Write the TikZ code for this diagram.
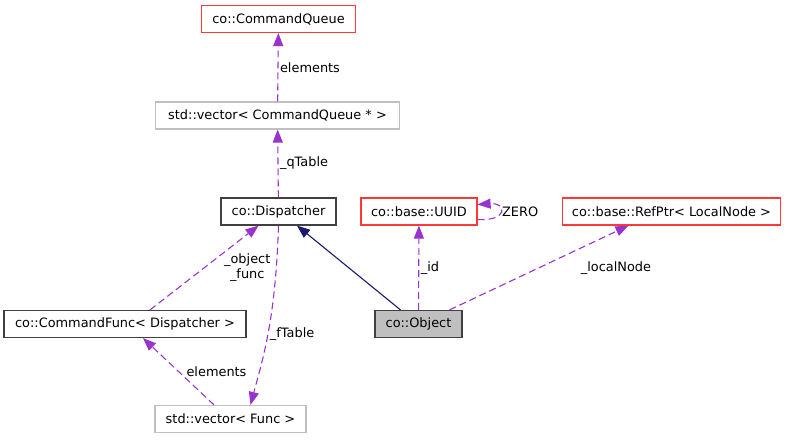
\documentclass[tikz,border=0pt]{standalone}
\usepackage{fontspec}
\setmainfont{DejaVu Sans}
\usetikzlibrary{arrows.meta}
\definecolor{usecol}{HTML}{9A32CD}
\definecolor{inhcol}{HTML}{191970}
\definecolor{extred}{HTML}{FF3838}
\definecolor{tplgray}{HTML}{BFBFBF}
\definecolor{objgray}{HTML}{BFBFBF}
\begin{document}
\begin{tikzpicture}[x=1pt, y=-1pt,
  cls/.style={rectangle, draw=black!75, line width=1.2pt, minimum height=27pt, inner sep=0pt, font=\fontsize{12.9}{15}\selectfont},
  extcls/.style={cls, draw=extred},
  tplcls/.style={cls, draw=tplgray},
  lbl/.style={font=\fontsize{12.9}{15}\selectfont, inner sep=1.5pt, text=black},
  uses/.style={color=usecol, line width=1.1pt, dash pattern=on 7pt off 4pt, -{Triangle[length=13pt,width=10pt]}},
  inherit/.style={color=inhcol, line width=1.1pt, -{Triangle[length=13pt,width=10pt]}}]
  \useasboundingbox (0,0) rectangle (787,440);

  \node[extcls, minimum width=154] (cq) at (278.5,19) {co::CommandQueue};
  \node[tplcls, minimum width=244] (qvec) at (277.5,115.5) {std::vector< CommandQueue * >};
  \path[uses] (qvec) edge node [midway, right, lbl] {elements} (cq);

  \node[cls, minimum width=115] (disp) at (278.5,211.5) {co::Dispatcher};
  \path[uses] (disp) edge node [midway, right, lbl] {\_qTable} (qvec);

  \node[cls, minimum width=242] (cmdfunc) at (125,324) {co::CommandFunc< Dispatcher >};
  \path[uses] ([xshift=25pt]cmdfunc.north) edge node [midway, xshift=43pt, lbl, align=center] {\_object\\\_func} ([xshift=-20pt]disp.south);

  \node[tplcls, minimum width=151] (fvec) at (230.5,419) {std::vector< Func >};
  \draw[uses] (disp.south) .. controls +(-3,95) and +(12,-45) .. ([xshift=20pt]fvec.north) node [pos=0.5, right, lbl] {\_fTable};
  \path[uses] ([xshift=-16.5pt]fvec.north) edge node [midway, right, xshift=6pt, lbl] {elements} ([xshift=18pt]cmdfunc.south);

  \node[extcls, minimum width=116] (uuid) at (419,211.5) {co::base::UUID};
  \draw[uses] ([yshift=-8pt]uuid.east) .. controls +(30,2) and +(30,-2) .. ([yshift=7pt]uuid.east) node [pos=0.5, right, lbl] {ZERO};

  \node[extcls, minimum width=218] (refptr) at (671.5,211.5) {co::base::RefPtr< LocalNode >};

  \node[cls, fill=objgray, minimum width=87] (obj) at (418.5,324) {co::Object};
  \path[inherit] ([xshift=-18pt]obj.north) edge ([xshift=18.5pt]disp.south);
  \path[uses] (obj) edge node [midway, right, lbl] {\_id} (uuid);
  \path[uses] ([xshift=31pt]obj.north) edge node [midway, xshift=77pt, lbl] {\_localNode} ([xshift=-43pt]refptr.south);

\end{tikzpicture}
\end{document}
